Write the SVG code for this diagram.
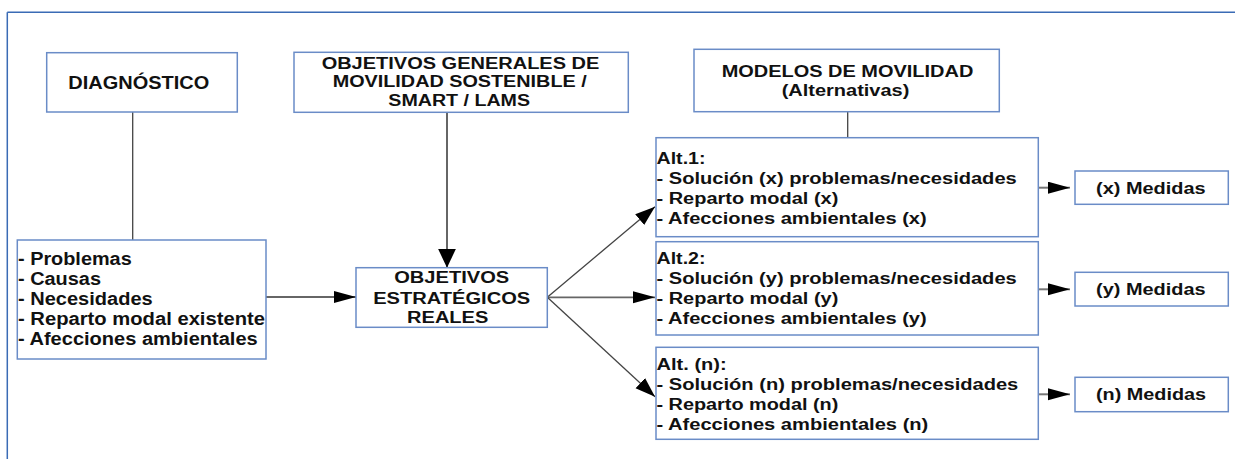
<svg xmlns="http://www.w3.org/2000/svg" width="1235" height="459" viewBox="0 0 1235 459">
<style>
.box{fill:#fff;stroke:#6a8cc7;stroke-width:1.5}
.t{font-family:"Liberation Sans",Arial,sans-serif;font-weight:bold;fill:#111}
.c{stroke:#444;stroke-width:1.3;fill:none}
.frame{stroke:#3a6bb5;stroke-width:1.5;fill:none}
</style>
<defs>
<marker id="ah" markerUnits="userSpaceOnUse" markerWidth="22" markerHeight="16" refX="20" refY="7" orient="auto"><path d="M0,0 L20,7 L0,14 z" fill="#000"/></marker>
<marker id="ahs" markerUnits="userSpaceOnUse" markerWidth="24" markerHeight="14" refX="22" refY="6" orient="auto"><path d="M0,0 L22,6 L0,12 z" fill="#000"/></marker>
<marker id="ahv" markerUnits="userSpaceOnUse" markerWidth="21" markerHeight="20" refX="19" refY="9" orient="auto"><path d="M0,0 L19,9 L0,18 z" fill="#000"/></marker>
</defs>
<g id="frame">
<line class="frame" x1="7.3" y1="12.3" x2="1235" y2="12.3"/>
<line class="frame" x1="7.3" y1="12.3" x2="7.3" y2="459"/>
</g>
<g id="connectors">
<line class="c" x1="132.7" y1="112" x2="132.7" y2="240" stroke="#222"/>
<line class="c" x1="847.7" y1="111.7" x2="847.7" y2="137.7" stroke="#333"/>
<line class="c" x1="447" y1="112.3" x2="447" y2="267.7" style="stroke:#666;stroke-width:2" marker-end="url(#ahv)"/>
<line class="c" x1="266" y1="297" x2="356" y2="297" style="stroke:#666;stroke-width:1.8" marker-end="url(#ahs)"/>
<line class="c" x1="547.3" y1="297.3" x2="655" y2="206.7" marker-end="url(#ah)"/>
<line class="c" x1="547.3" y1="297.3" x2="655" y2="297.3" style="stroke:#666;stroke-width:1.8" marker-end="url(#ahs)"/>
<line class="c" x1="547.3" y1="297.3" x2="655" y2="396.7" marker-end="url(#ah)"/>
<line class="c" x1="1038" y1="187.7" x2="1070" y2="187.7" style="stroke:#777;stroke-width:2" marker-end="url(#ahs)"/>
<line class="c" x1="1038" y1="289.3" x2="1070" y2="289.3" style="stroke:#777;stroke-width:2" marker-end="url(#ahs)"/>
<line class="c" x1="1038" y1="394.3" x2="1070" y2="394.3" style="stroke:#777;stroke-width:2" marker-end="url(#ahs)"/>
</g>
<g id="diagnostico">
<rect class="box" x="46.7" y="52.7" width="190.6" height="59.3"/>
<text class="t" x="68.3" y="89" font-size="19" textLength="141" lengthAdjust="spacingAndGlyphs">DIAGNÓSTICO</text>
</g>
<g id="objetivos-generales">
<rect class="box" x="294" y="52.3" width="334.3" height="60"/>
<text class="t" x="460.5" y="68.5" font-size="16" text-anchor="middle" textLength="277.7" lengthAdjust="spacingAndGlyphs">OBJETIVOS GENERALES DE</text>
<text class="t" x="459.7" y="87.2" font-size="16" text-anchor="middle" textLength="254" lengthAdjust="spacingAndGlyphs">MOVILIDAD SOSTENIBLE /</text>
<text class="t" x="459.2" y="106" font-size="16" text-anchor="middle" textLength="141.7" lengthAdjust="spacingAndGlyphs">SMART / LAMS</text>
</g>
<g id="modelos">
<rect class="box" x="694" y="49.3" width="305.3" height="62.4"/>
<text class="t" x="847.5" y="77" font-size="16.5" text-anchor="middle" textLength="251.7" lengthAdjust="spacingAndGlyphs">MODELOS DE MOVILIDAD</text>
<text class="t" x="845.5" y="96" font-size="16.5" text-anchor="middle" textLength="127.7" lengthAdjust="spacingAndGlyphs">(Alternativas)</text>
</g>
<g id="problemas">
<rect class="box" x="17.3" y="240" width="248.7" height="119"/>
<text class="t" x="18" y="265.3" font-size="18" textLength="113.7" lengthAdjust="spacingAndGlyphs">- Problemas</text>
<text class="t" x="18" y="284.8" font-size="18" textLength="83" lengthAdjust="spacingAndGlyphs">- Causas</text>
<text class="t" x="18" y="304.6" font-size="18" textLength="134.7" lengthAdjust="spacingAndGlyphs">- Necesidades</text>
<text class="t" x="18" y="324.6" font-size="18" textLength="247" lengthAdjust="spacingAndGlyphs">- Reparto modal existente</text>
<text class="t" x="18" y="344.6" font-size="18" textLength="239.7" lengthAdjust="spacingAndGlyphs">- Afecciones ambientales</text>
</g>
<g id="objetivos-estrategicos">
<rect class="box" x="356" y="267.7" width="191.3" height="59.6"/>
<text class="t" x="451.7" y="283" font-size="16" text-anchor="middle" textLength="115" lengthAdjust="spacingAndGlyphs">OBJETIVOS</text>
<text class="t" x="451.7" y="303.5" font-size="16" text-anchor="middle" textLength="157" lengthAdjust="spacingAndGlyphs">ESTRATÉGICOS</text>
<text class="t" x="447.7" y="322.5" font-size="16" text-anchor="middle" textLength="81.3" lengthAdjust="spacingAndGlyphs">REALES</text>
</g>
<g id="alt1">
<rect class="box" x="656" y="137.7" width="382.3" height="99"/>
<text class="t" x="656.5" y="163.5" font-size="16" textLength="49" lengthAdjust="spacingAndGlyphs">Alt.1:</text>
<text class="t" x="656.5" y="183.5" font-size="16" textLength="360.2" lengthAdjust="spacingAndGlyphs">- Solución (x) problemas/necesidades</text>
<text class="t" x="656.5" y="203.5" font-size="16" textLength="181.8" lengthAdjust="spacingAndGlyphs">- Reparto modal (x)</text>
<text class="t" x="656.5" y="223.5" font-size="16" textLength="270.2" lengthAdjust="spacingAndGlyphs">- Afecciones ambientales (x)</text>
</g>
<g id="alt2">
<rect class="box" x="656" y="241.7" width="382.3" height="93.3"/>
<text class="t" x="656.5" y="263.5" font-size="16" textLength="49" lengthAdjust="spacingAndGlyphs">Alt.2:</text>
<text class="t" x="656.5" y="283.5" font-size="16" textLength="360.2" lengthAdjust="spacingAndGlyphs">- Solución (y) problemas/necesidades</text>
<text class="t" x="656.5" y="303.5" font-size="16" textLength="181.8" lengthAdjust="spacingAndGlyphs">- Reparto modal (y)</text>
<text class="t" x="656.5" y="323.5" font-size="16" textLength="270.2" lengthAdjust="spacingAndGlyphs">- Afecciones ambientales (y)</text>
</g>
<g id="altn">
<rect class="box" x="656" y="347.3" width="382.3" height="92"/>
<text class="t" x="656.5" y="369.5" font-size="16" textLength="70.2" lengthAdjust="spacingAndGlyphs">Alt. (n):</text>
<text class="t" x="656.5" y="389.5" font-size="16" textLength="361.8" lengthAdjust="spacingAndGlyphs">- Solución (n) problemas/necesidades</text>
<text class="t" x="656.5" y="409.5" font-size="16" textLength="181.8" lengthAdjust="spacingAndGlyphs">- Reparto modal (n)</text>
<text class="t" x="656.5" y="429.5" font-size="16" textLength="271.8" lengthAdjust="spacingAndGlyphs">- Afecciones ambientales (n)</text>
</g>
<g id="medidas-x">
<rect class="box" x="1075" y="171" width="153.3" height="33.3"/>
<text class="t" x="1096" y="193.5" font-size="16.5" textLength="109.7" lengthAdjust="spacingAndGlyphs">(x) Medidas</text>
</g>
<g id="medidas-y">
<rect class="box" x="1075" y="272.3" width="153.3" height="33.7"/>
<text class="t" x="1096" y="294.5" font-size="16.5" textLength="109.7" lengthAdjust="spacingAndGlyphs">(y) Medidas</text>
</g>
<g id="medidas-n">
<rect class="box" x="1075" y="377.3" width="153.3" height="34.4"/>
<text class="t" x="1096" y="399.5" font-size="16.5" textLength="110" lengthAdjust="spacingAndGlyphs">(n) Medidas</text>
</g>
</svg>
